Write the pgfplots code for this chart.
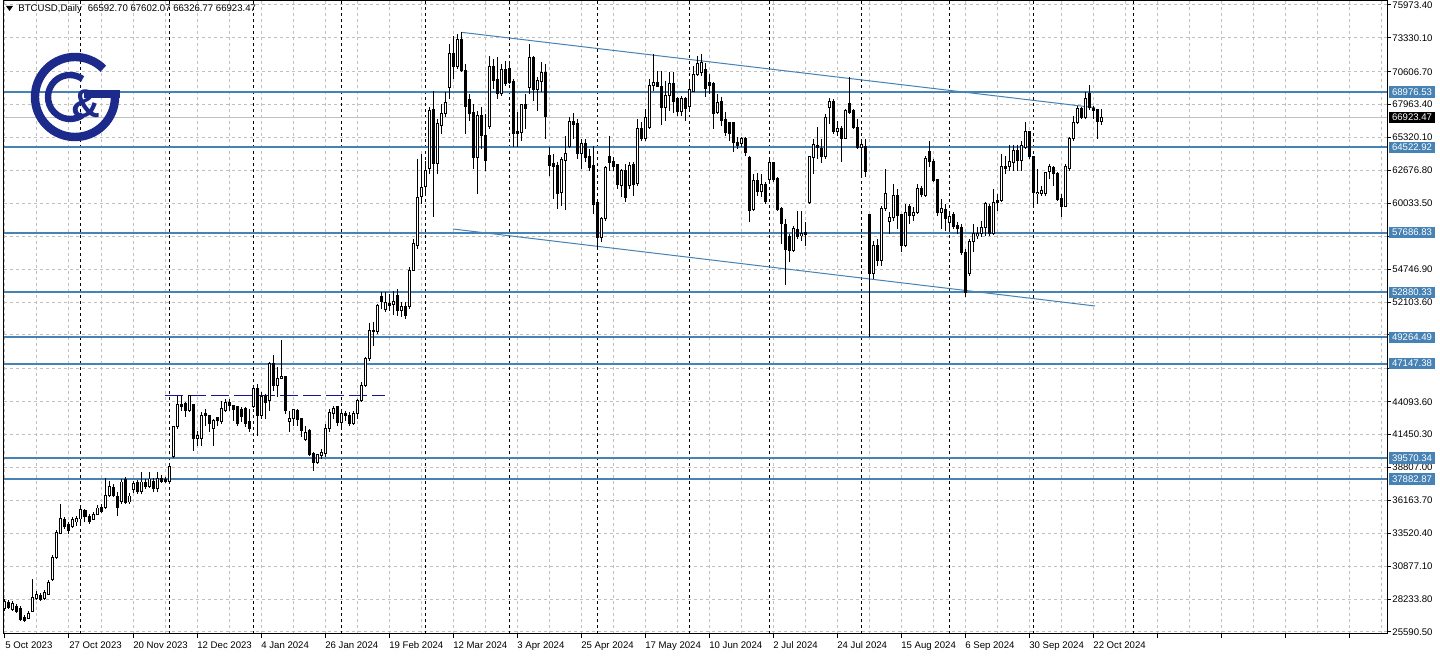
\documentclass[border=0pt]{standalone}
\usepackage{pgfplots}
\pgfplotsset{compat=1.18}
\usepackage{pgfplotstable}
\usepackage{fontspec}
\setmainfont{Liberation Sans}
\definecolor{lvl}{RGB}{70,130,180}
\definecolor{navyd}{RGB}{20,20,150}
\definecolor{logoc}{RGB}{28,42,140}
\definecolor{gridc}{RGB}{192,192,192}
\newcommand\mtfont{\fontsize{4.8pt}{5.5pt}\selectfont}

\pgfplotstableread{
i o h l c
0 27517 28240 27276 28080
1 28000 28160 27436 27597
2 27397 28080 27276 27919
3 27678 27838 27115 27276
4 27517 27678 26472 26633
5 26793 26954 26392 26552
6 26713 27276 26633 27115
7 27276 29847 27196 28401
8 28320 28907 28160 28642
9 28561 28722 28080 28240
10 28320 28963 28160 28802
11 28642 29767 28561 29607
12 29847 31776 29687 31615
13 31615 33785 31454 33624
14 33544 35874 33463 34749
15 34669 34830 33865 34106
16 34267 34428 33463 33785
17 34106 34830 33946 34669
18 34428 34910 34106 34749
19 34669 35794 34106 35472
20 35392 35472 34428 34830
21 34910 35070 34267 34508
22 34669 35231 34589 35070
23 35070 35794 34990 35553
24 35633 35874 35151 35311
25 35633 37963 35472 36597
26 36597 37722 36436 37320
27 37240 37481 36436 36517
28 36517 36839 34910 35633
29 36115 37883 35874 37642
30 37883 38044 35874 35955
31 36035 36758 35874 36517
32 37000 37722 36758 37482
33 37642 37803 36678 36839
34 36839 38446 36678 37642
35 37642 37883 37080 37320
36 37320 38446 37160 37883
37 37722 37963 36839 37080
38 37080 38446 36839 37963
39 37963 38205 37562 37722
40 37883 38044 37562 37722
41 37681 38928 37562 38848
42 39651 42167 39570 42062
43 42062 44577 41901 43830
44 43830 44577 43372 43709
45 43910 44071 42866 43372
46 43372 44657 43267 44553
47 43830 43910 40158 41098
48 41098 41764 40560 41339
49 41098 43243 40560 42946
50 43106 43508 42167 42946
51 42946 42971 41660 42303
52 41901 42705 40536 42544
53 42786 42866 42167 42544
54 42489 44176 42303 43508
55 43372 44312 43243 44046
56 43990 44312 43372 43749
57 43749 43773 42569 43428
58 43669 43773 42167 42303
59 43428 43645 42440 42866
60 43508 43669 42062 42303
61 42464 43508 41636 41901
62 43669 45381 43589 45116
63 45116 45517 41363 42946
64 42946 44875 42705 44473
65 44473 44714 42705 43990
66 44151 47285 43372 47125
67 47125 47848 44978 45381
68 45381 46884 44448 45976
69 45976 49078 45919 46137
70 46137 46185 43106 43372
71 42489 43372 41636 42705
72 42705 43508 42119 43428
73 43372 43508 42167 42650
74 42705 42762 41234 41765
75 41041 42167 40962 41636
76 41820 41901 39756 39812
77 39892 40029 38502 39226
78 39169 39892 39089 39812
79 39756 40294 39490 39973
80 39892 42303 39627 41957
81 41957 43508 41636 43243
82 43163 43773 42705 43565
83 43693 43773 42167 42383
84 42440 43291 41901 43106
85 43106 43372 42569 42971
86 42971 43243 42167 42303
87 42303 43372 42247 43163
88 43163 44312 42705 44176
89 44176 45654 44046 45381
90 45381 47663 45252 47583
91 47583 50395 47390 49801
92 49801 50500 48600 49700
93 49700 51946 49500 51785
94 52508 52910 51544 52107
95 51464 52910 51303 52026
96 51946 52750 51384 51785
97 51866 52991 51062 52107
98 52589 53152 50982 51408
99 51384 52107 50902 51705
100 51705 52107 50741 50982
101 51730 54920 51544 54623
102 54623 57170 54598 56768
103 56631 63598 56366 60520
104 60544 64000 59982 61325
105 61349 63438 60786 62634
106 62795 67777 62393 67456
107 67536 69063 58955 63197
108 63197 66813 62393 66467
109 66275 68018 65607 67271
110 67215 68982 66974 68155
111 69360 72840 68420 72092
112 72092 73483 70027 71016
113 71016 73643 70831 73161
114 73161 73804 70590 70694
115 70694 71233 65607 67801
116 68340 68822 66652 67271
117 67351 68018 62795 63735
118 63735 67456 60786 67078
119 67078 67777 64402 65471
120 65471 67215 62634 63462
121 66194 71876 66009 71016
122 71016 71634 69224 69891
123 69947 71771 68420 68878
124 68878 71233 68685 70750
125 70750 71498 69489 69625
126 70831 71369 69625 69762
127 69810 70027 64539 65664
128 65792 67351 64539 65664
129 65744 68018 65069 67938
130 67938 68822 66009 67673
131 69360 72840 68822 71715
132 71715 71851 68283 69167
133 69167 70163 67480 69891
134 69810 71369 68959 70565
135 70565 71233 65206 66998
136 63864 64539 62256 63060
137 63197 64000 60384 62980
138 63060 63334 59580 60786
139 60866 63735 59845 63518
140 63462 65471 59524 64000
141 64619 66950 64458 66596
142 66596 67295 65206 66331
143 66411 66813 63598 64000
144 64000 65206 62795 64804
145 64804 65206 63334 63735
146 63816 64402 62659 62931
147 63060 64667 59179 59926
148 60119 60384 56366 57250
149 57250 58913 56905 58777
150 58777 63060 58640 62875
151 63783 65471 62659 63334
152 63382 63735 62659 62980
153 63116 63197 61188 61533
154 61453 62795 60520 62659
155 62659 63197 60119 60520
156 61453 63334 61188 63060
157 63116 63334 60649 61533
158 61590 66813 61453 66009
159 66009 66548 65069 65262
160 65262 67616 65069 66950
161 66146 70027 66009 69489
162 69489 72036 69063 69762
163 69706 70694 69360 69440
164 69440 70694 66331 67753
165 67753 69891 66676 68685
166 68685 70565 67480 69625
167 69625 70565 67295 68235
168 68420 68556 67078 67400
169 67400 68685 67078 68420
170 68476 68556 66676 67616
171 67833 69762 67616 69167
172 69007 71096 68959 70349
173 70349 71900 70293 71233
174 70565 72036 70293 71313
175 70774 71313 68556 69224
176 69762 70429 68822 69489
177 69625 69762 66009 67215
178 67295 68822 67215 68098
179 68203 68556 66275 66676
180 66756 67351 65471 65688
181 66491 66548 65069 65608
182 66491 66548 64137 64884
183 64940 65342 64402 64667
184 64804 65342 64539 65206
185 65206 65342 63864 64137
186 63735 63864 58512 59444
187 59524 62393 59444 61855
188 61855 62473 60649 60971
189 60971 62393 60520 61509
190 61509 61726 59982 60167
191 61935 63735 61855 63277
192 63277 63277 61774 61935
193 61991 62128 59444 59524
194 59580 59717 56768 58375
195 58295 58777 53473 56310
196 57386 57572 55297 56230
197 56230 58238 56101 57973
198 57917 59444 57170 57386
199 57435 59444 57033 57572
200 57708 58512 56583 57491
201 60063 63864 59982 63815
202 63735 65206 62393 64723
203 64667 66146 63598 64539
204 64458 65206 63277 63815
205 63815 67215 63598 66949
206 67753 68476 66411 68203
207 68203 68420 65607 65792
208 65792 66676 65471 66065
209 66065 66275 63382 65262
210 65262 67616 65206 67480
211 68018 70164 67215 67351
212 67480 67616 66009 66146
213 66146 66813 64402 64539
214 64539 65206 62128 64723
215 64619 65206 62128 62578
216 59098 59179 49268 54357
217 54357 57033 53955 56631
218 56631 57170 54999 55400
219 55400 59846 54999 59580
220 59580 62795 59419 60786
221 58536 59339 57571 58857
222 58857 61590 58616 60649
223 60649 61188 57973 59042
224 59098 59179 56125 56631
225 56631 59982 56527 59315
226 59797 59982 58375 59042
227 59042 59741 58616 59315
228 59315 61590 59179 61243
229 61188 61453 60520 60705
230 60649 63864 60545 63655
231 64217 65045 62956 63382
232 63382 63598 61750 61855
233 61911 61991 59042 59315
234 59315 60384 57973 59580
235 59524 59982 57812 58777
236 58456 59339 57732 58994
237 59098 59339 57973 58190
238 58238 58536 57571 57973
239 58110 58375 55884 56101
240 56101 56366 52509 52886
241 54357 57170 54196 56952
242 56952 58375 56125 57572
243 57435 58134 57170 57572
244 57572 58616 57331 58110
245 58110 60143 57411 59982
246 59797 59982 57411 57572
247 57572 61188 57491 60119
248 60248 60786 59444 60119
249 60248 64000 60167 63012
250 63012 63864 62393 62852
251 63012 64723 62659 63382
252 63334 64723 62659 64266
253 64266 64723 62659 63462
254 63462 65069 62659 64667
255 64539 66548 64402 65792
256 65792 65873 63598 63815
257 63815 63864 59902 60923
258 60786 62795 59982 60923
259 60786 61453 60649 61051
260 60786 62578 60649 62473
261 62578 63197 61991 63012
262 62931 63060 61453 62393
263 62393 62530 60248 60328
264 60384 60786 58914 59797
265 59797 63197 59717 63012
266 62795 65342 62659 65206
267 65206 67078 65069 66548
268 66491 67882 66411 67673
269 67616 67753 66813 66950
270 66950 69007 66813 68420
271 68822 69545 67560 67753
272 67673 67882 66813 67480
273 67560 67616 65206 66596
274 66592.70 67602.07 66326.77 66923.47
}\candles

\begin{document}
\begin{tikzpicture}
\useasboundingbox (0,0) rectangle (720pt,328.5pt);
\fill[white] (0,0) rectangle (720pt,328.5pt);
\begin{axis}[
  at={(2pt,11.5pt)}, anchor=south west,
  scale only axis, width=691.5pt, height=316.5pt,
  xmin=-0.25, xmax=345.5, ymin=25430, ymax=76288,
  clip=false,
  axis line style={black, line width=0.5pt},
  xtick={0,16,...,336},
  xticklabels={5 Oct 2023, 27 Oct 2023, 20 Nov 2023, 12 Dec 2023, 4 Jan 2024, 26 Jan 2024, 19 Feb 2024, 12 Mar 2024, 3 Apr 2024, 25 Apr 2024, 17 May 2024, 10 Jun 2024, 2 Jul 2024, 24 Jul 2024, 15 Aug 2024, 6 Sep 2024, 30 Sep 2024, 22 Oct 2024, {}, {}, {}, {}},
  minor xtick={8,24,...,344},
  ytick={25590.5,28233.8,30877.1,33520.4,36163.7,38807.0,41450.3,44093.6,46736.9,49460.3,52103.6,54746.9,57390.2,60033.5,62676.8,65320.1,67963.4,70606.7,73330.1,75973.4},
  yticklabels={25590.50,28233.80,30877.10,33520.40,36163.70,38807.00,41450.30,44093.60,{},{},52103.60,54746.90,{},60033.50,62676.80,65320.10,67963.40,70606.70,73330.10,75973.40},
  xmajorgrids, xminorgrids, ymajorgrids,
  grid style={gridc, dash pattern=on 1.5pt off 1.5pt, line width=0.5pt},
  xtick pos=left, ytick pos=right, yticklabel pos=right,
  tick align=outside, major tick length=2pt, minor tick length=0pt,
  tick style={black, line width=0.5pt},
  xticklabel style={font=\mtfont, anchor=north west, inner sep=0pt, yshift=-1.5pt},
  yticklabel style={font=\mtfont, anchor=west, inner sep=0pt, xshift=0.5pt},
  extra x ticks={19,41,62,84,105,126,148,171,191,214,236,257,282},
  extra x tick labels={},
  extra x tick style={grid=major, major tick length=0pt, major grid style={black, dash pattern=on 1.5pt off 1.5pt, line width=0.5pt}},
]
% current price line
\addplot[forget plot, gridc, line width=0.5pt] coordinates {(-0.25,66923.47) (345.5,66923.47)};
% horizontal levels
\addplot[forget plot, lvl, line width=1pt] coordinates {(-0.25,68976.53) (345.5,68976.53)};
\addplot[forget plot, lvl, line width=1pt] coordinates {(-0.25,64522.92) (345.5,64522.92)};
\addplot[forget plot, lvl, line width=1pt] coordinates {(-0.25,57686.83) (345.5,57686.83)};
\addplot[forget plot, lvl, line width=1pt] coordinates {(-0.25,52880.33) (345.5,52880.33)};
\addplot[forget plot, lvl, line width=1pt] coordinates {(-0.25,49264.49) (345.5,49264.49)};
\addplot[forget plot, lvl, line width=1pt] coordinates {(-0.25,47147.38) (345.5,47147.38)};
\addplot[forget plot, lvl, line width=1pt] coordinates {(-0.25,39570.34) (345.5,39570.34)};
\addplot[forget plot, lvl, line width=1pt] coordinates {(-0.25,37882.87) (345.5,37882.87)};
% channel
\addplot[forget plot, lvl, line width=0.5pt] coordinates {(114.1,73773) (272.5,67715)};
\addplot[forget plot, lvl, line width=0.5pt] coordinates {(112,57969) (272.5,51783)};
% dashed navy line
\addplot[forget plot, navyd, line width=0.5pt, dash pattern=on 9pt off 2.5pt] coordinates {(40,44560) (95,44560)};
% wicks
\addplot[forget plot, draw=none, mark=none, error bars/.cd, y dir=both, y explicit, error mark=none,
  error bar style={draw=black, line width=0.5pt, solid}]
  table[x=i, y expr={(\thisrow{h}+\thisrow{l})/2}, y error expr={(\thisrow{h}-\thisrow{l})/2}] {\candles};
% bodies
\addplot[forget plot, draw=none, mark=none, error bars/.cd, y dir=both, y explicit, error mark=none,
  error bar style={draw=black, line width=1.5pt, solid}]
  table[x=i, y expr={(\thisrow{o}+\thisrow{c})/2}, y error expr={abs(\thisrow{o}-\thisrow{c})/2+40}] {\candles};
% hollow interiors of rising candles
\addplot[forget plot, draw=none, mark=none, error bars/.cd, y dir=both, y explicit, error mark=none,
  error bar style={draw=white, line width=0.5pt, solid}]
  table[x=i, y expr={(\thisrow{o}+\thisrow{c})/2}, y error expr={(\thisrow{c}>\thisrow{o}) ? max((\thisrow{c}-\thisrow{o})/2-40,0) : 0}] {\candles};
% price boxes
\tikzset{lbl/.style={anchor=west, xshift=1pt, fill=lvl, text=white, font=\mtfont, inner xsep=1.3pt, inner ysep=0pt, minimum height=5.6pt}}
\node[lbl] at (axis cs:345.5,68976.53) {68976.53};
\node[lbl] at (axis cs:345.5,64522.92) {64522.92};
\node[lbl] at (axis cs:345.5,57686.83) {57686.83};
\node[lbl] at (axis cs:345.5,52880.33) {52880.33};
\node[lbl] at (axis cs:345.5,49264.49) {49264.49};
\node[lbl] at (axis cs:345.5,47147.38) {47147.38};
\node[lbl] at (axis cs:345.5,39570.34) {39570.34};
\node[lbl] at (axis cs:345.5,37882.87) {37882.87};
\node[lbl, fill=black] at (axis cs:345.5,66923.47) {66923.47};
\end{axis}
% pixel-coordinate decorations
\begin{scope}[x=0.5pt, y=-0.5pt, shift={(0pt,328.5pt)}]
  \fill[black] (6,6) -- (13,6) -- (9.5,11) -- cycle;
  \node[anchor=base west, inner sep=0pt, font=\mtfont] at (18,12) {BTCUSD,Daily\hspace{3pt}66592.70 67602.07 66326.77 66923.47};
  % logo
  \draw[logoc, line width=4.2pt] (75,97) ++(-45:40) arc[start angle=-45, end angle=-360, radius=40];
  \draw[logoc, line width=4pt] (84,94) -- (120,94);
  \draw[logoc, line width=3.2pt] (70,97) ++(-55:22) arc[start angle=-55, end angle=-305, radius=22];
  \node[logoc, font=\fontsize{20pt}{20pt}\selectfont\bfseries, inner sep=0pt] at (86,104) {\&};
\end{scope}
\end{tikzpicture}
\end{document}
